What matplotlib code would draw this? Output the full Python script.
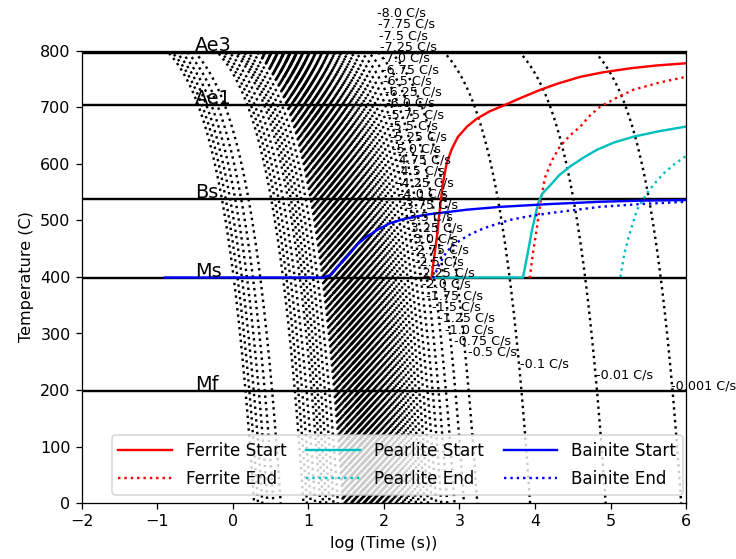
import matplotlib
matplotlib.use('Agg')
import matplotlib.pyplot as plt
import numpy as np

# critical temperatures (C)
LINE_NAMES = ['Ae3', 'Ae1', 'Bs', 'Ms', 'Mf']
LINE_TEMPS = [797, 704, 538, 398, 198]

# cooling rates (C/s) with a text label, slowest first
LABELED_RATES = [0.001, 0.01, 0.1,
                 0.5, 0.75, 1.0, 1.25, 1.5, 1.75, 2.0, 2.25, 2.5, 2.75, 3.0,
                 3.25, 3.5, 3.75, 4.0, 4.25, 4.5, 4.75, 5.0, 5.25, 5.5, 5.75,
                 6.0, 6.25, 6.5, 6.75, 7.0, 7.25, 7.5, 7.75, 8.0]
# faster cooling rates (their labels fall outside the figure)
DENSE_RATES = [8.25, 8.5, 8.75, 9.0, 9.25, 9.5, 9.75, 10.0, 10.25, 10.5, 10.75,
               11.0, 11.25, 11.5, 11.75, 12.0, 12.25, 12.5, 12.75, 13.0, 13.25,
               13.5, 13.75, 14.0, 14.25, 14.5, 14.75, 15.0, 15.25, 15.5, 15.75,
               16.0, 16.5, 17.0, 17.5, 18.0, 18.5, 19.0, 19.5, 20.0, 20.5,
               21.0, 21.5, 22.0, 22.5, 23.0, 24.0, 25.0, 26.0, 27.0, 28.0,
               29.0, 30.0]
FAST_RATES = [35.0, 40.0, 45.0, 50.0, 55.0, 60.0, 70.0, 80.0, 90.0, 100.0,
              200.0, 250.0, 300.0, 350.0, 400.0, 450.0]
START_TEMP = 860

# transformation curves: log10(time), temperature
FERRITE_START_X = [2.63, 2.66, 2.70, 2.74, 2.78, 2.83, 2.90, 2.98, 3.10, 3.23,
                   3.40, 3.58, 3.80, 4.07, 4.30, 4.60, 4.90, 5.26, 5.60, 6.0]
FERRITE_START_T = [398, 430, 470, 520, 565, 601, 627, 648, 666, 680,
                   693, 703, 716, 731, 742, 754, 762, 769, 774, 778]
FERRITE_END_X = [3.93, 3.97, 4.02, 4.07, 4.13, 4.22, 4.33, 4.46, 4.60, 4.73,
                 4.86, 5.08, 5.30, 5.65, 6.0]
FERRITE_END_T = [398, 440, 483, 530, 575, 605, 631, 650, 666, 686,
                 701, 717, 731, 744, 754]
PEARLITE_START_X = [2.65, 3.84, 3.90, 3.96, 4.04, 4.10, 4.20, 4.32, 4.46, 4.64,
                    4.82, 5.05, 5.30, 5.65, 6.0]
PEARLITE_START_T = [399, 399, 440, 483, 530, 548, 562, 580, 595, 611,
                    625, 638, 648, 658, 666]
PEARLITE_END_X = [5.13, 5.18, 5.24, 5.35, 5.48, 5.60, 5.70, 5.85, 6.0]
PEARLITE_END_T = [400, 440, 471, 519, 548, 568, 583, 600, 614]
BAINITE_START_X = [-0.9, 1.2, 1.3, 1.4, 1.55, 1.65, 1.77, 1.92, 2.08, 2.25,
                   2.43, 2.60, 2.79, 3.10, 3.54, 4.20, 4.86, 5.40, 6.0]
BAINITE_START_T = [399, 399, 404, 420, 442, 458, 471, 484, 495, 502,
                   507, 511, 514, 519, 524, 529, 533, 535, 536]
BAINITE_END_X = [2.65, 2.70, 2.74, 2.83, 2.92, 3.01, 3.15, 3.32, 3.50, 3.67,
                 3.90, 4.20, 4.50, 4.86, 5.40, 6.0]
BAINITE_END_T = [398, 412, 424, 445, 456, 465, 476, 486, 494, 501,
                 507, 513, 518, 524, 529, 533]


def cooling_curve(rate):
    log_time = np.linspace(-3, 7, 3000)
    temps = START_TEMP - rate * 10 ** log_time
    keep = temps >= -50
    return log_time[keep], temps[keep]


fig, ax = plt.subplots(figsize=(6.4, 4.855), dpi=115.15)
fig.subplots_adjust(left=0.111, right=0.931, bottom=0.100, top=0.909)

for r in sorted(LABELED_RATES + DENSE_RATES + FAST_RATES):
    x, t = cooling_curve(r)
    ax.plot(x, t, ':', color='k')

for i, r in enumerate(LABELED_RATES):
    ty = 207 + 20 * i
    tx = np.log10(640 / r)
    ax.text(tx, ty, '{} C/s'.format(-r), fontsize=8, va='center')

for name, temp in zip(LINE_NAMES, LINE_TEMPS):
    ax.axhline(temp, color='k')
    ax.text(-0.5, temp + 2, name, fontsize=12)

ax.plot(FERRITE_START_X, FERRITE_START_T, 'r-', label='Ferrite Start')
ax.plot(FERRITE_END_X, FERRITE_END_T, 'r:', label='Ferrite End')
ax.plot(PEARLITE_START_X, PEARLITE_START_T, 'c-', label='Pearlite Start')
ax.plot(PEARLITE_END_X, PEARLITE_END_T, 'c:', label='Pearlite End')
ax.plot(BAINITE_START_X, BAINITE_START_T, 'b-', label='Bainite Start')
ax.plot(BAINITE_END_X, BAINITE_END_T, 'b:', label='Bainite End')

ax.set_xlim(-2, 6)
ax.set_ylim(0, 800)
ax.set_xlabel('log (Time (s))')
ax.set_ylabel('Temperature (C)')
ax.legend(loc='lower right', bbox_to_anchor=(1.008, 0.0), ncol=3,
          fontsize=10.5, handlelength=3.2, labelspacing=0.6, columnspacing=1.2)

plt.savefig('out.png')
